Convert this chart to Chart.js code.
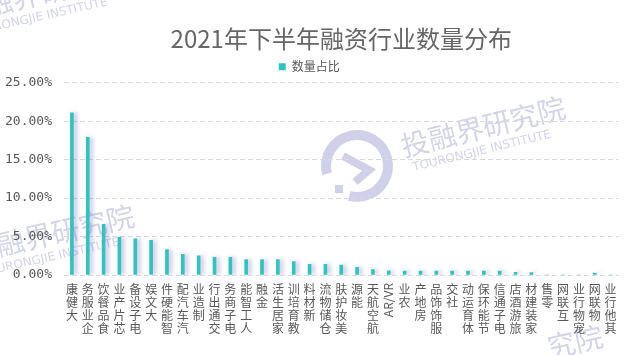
<!DOCTYPE html>
<html><head><meta charset="utf-8">
<script src="https://cdn.jsdelivr.net/npm/chart.js@4/dist/chart.umd.min.js"></script>
<style>html,body{margin:0;padding:0;background:#fff;}</style>
</head><body>
<canvas id="c" width="640" height="355"></canvas>
<script>
const titleText = '2021年下半年融资行业数量分布';
const seriesName = '数量占比';
const categories = ['大健康','企业服务','食品餐饮','芯片产业','电子设备','大文娱','智能硬件','汽车汽配','制造业','交通出行','电子商务','人工智能','金融','家居生活','教育培训','新材料','仓储物流','美妆护肤','能源','航空航天','AR/VR','农业','房地产','服饰饰品','社交','体育运动','节能环保','电子通信','旅游酒店','家装建材','零售','互联网','宠物行业','物联网','其他行业'];
const shares = [21.1,17.9,6.6,4.9,4.7,4.5,3.3,2.7,2.5,2.3,2.3,2.0,2.0,2.0,1.75,1.4,1.4,1.3,1.0,0.7,0.55,0.5,0.5,0.5,0.5,0.5,0.5,0.5,0.35,0.3,0,0,0,0.25,0];
const yTickValues = [0,5,10,15,20,25];
const watermarkCN = '投融界研究院';
const watermarkEN = 'TOURONGJIE INSTITUTE';

const barShadow = {
  id: 'barShadow',
  beforeDatasetsDraw(chart) {
    const ctx = chart.ctx; ctx.save();
    ctx.shadowColor = 'rgba(120,110,190,0.45)';
    ctx.shadowOffsetX = 3; ctx.shadowOffsetY = 0; ctx.shadowBlur = 4;
  },
  afterDatasetsDraw(chart) { chart.ctx.restore(); }
};

const titleCenter = {
  id: 'titleCenter',
  afterLayout(chart) {
    const t = chart.titleBlock;
    if (t) { t.left = chart.chartArea.left; t.right = chart.chartArea.right; t.width = t.right - t.left; }
  }
};

const watermark = {
  id: 'watermark',
  beforeDraw(chart) {
    const ctx = chart.ctx;
    ctx.save();
    const col = 'rgba(150,150,205,0.42)';
    ctx.fillStyle = col; ctx.textBaseline = 'alphabetic'; ctx.textAlign = 'left';
    const draw = (x, y, ang, cnSize, enSize, cn, withEn) => {
      ctx.save(); ctx.translate(x, y); ctx.rotate(ang);
      ctx.font = cnSize + 'px "Noto Sans CJK SC"';
      ctx.fillText(cn, 0, 0);
      if (withEn) { ctx.font = enSize + 'px "DejaVu Sans"'; ctx.fillText(watermarkEN, 6, enSize + 4); }
      ctx.restore();
    };
    draw(404, 157, -0.24, 28, 12, watermarkCN, true);
    draw(-28, 262, -0.22, 28, 12, watermarkCN, true);
    draw(-40, 22, -0.22, 28, 12, watermarkCN, true);
    draw(550, 358, -0.22, 28, 12, watermarkCN.slice(4), false);
    // logo
    const lc = 'rgba(150,150,210,0.45)';
    ctx.strokeStyle = lc; ctx.lineWidth = 10; ctx.lineCap = 'butt';
    ctx.beginPath(); ctx.arc(357, 166, 31, Math.PI * 0.92, Math.PI * 2.58); ctx.stroke();
    ctx.lineWidth = 8;
    ctx.beginPath(); ctx.moveTo(343, 156); ctx.lineTo(369, 170); ctx.lineTo(355, 182); ctx.stroke();
    ctx.fillStyle = lc; ctx.fillRect(335, 185, 8, 8);
    ctx.restore();
  }
};

const xLabels = {
  id: 'xLabels',
  afterDraw(chart) {
    const ctx = chart.ctx, xs = chart.scales.x;
    ctx.save();
    ctx.fillStyle = '#595959';
    ctx.font = '12px "Noto Sans CJK SC"';
    ctx.textAlign = 'center'; ctx.textBaseline = 'middle';
    const top = chart.chartArea.bottom + 8;
    categories.forEach((lab, i) => {
      const x = xs.getPixelForTick(i);
      const tokens = lab.match(/[\u2E80-\u9FFF]|[^\u2E80-\u9FFF]+/g);
      let y = top;
      for (let k = tokens.length - 1; k >= 0; k--) {
        const t = tokens[k];
        if (/[\u2E80-\u9FFF]/.test(t)) { ctx.fillText(t, x, y + 6.5); y += 13; }
        else {
          const w = ctx.measureText(t).width;
          ctx.save(); ctx.translate(x, y + w / 2); ctx.rotate(-Math.PI / 2); ctx.fillText(t, 0, 0); ctx.restore();
          y += w + 1;
        }
      }
    });
    ctx.restore();
  }
};

new Chart(document.getElementById('c'), {
  type: 'bar',
  data: {
    labels: categories,
    datasets: [{ label: seriesName, data: shares, backgroundColor: '#2EC4BF', barThickness: 3 }]
  },
  options: {
    responsive: false, animation: false,
    layout: { padding: { left: 0, right: 21.5, top: 0, bottom: 0 } },
    plugins: {
      title: { display: true, text: titleText, color: '#666666',
        font: { family: '"Noto Sans CJK SC"', size: 24, weight: 'normal' },
        padding: { top: 24, bottom: 0 } },
      legend: { display: true, position: 'top',
        labels: { boxWidth: 7, boxHeight: 7, padding: 8, color: '#595959',
          font: { family: '"Noto Sans CJK SC"', size: 12 } } },
      tooltip: { enabled: false }
    },
    scales: {
      x: {
        grid: { display: false }, border: { display: false },
        ticks: { display: false },
        afterFit(s) { s.height = 80; }
      },
      y: {
        min: 0, max: 25,
        afterBuildTicks(s) { s.ticks = yTickValues.map(v => ({ value: v })); },
        afterFit(s) { s.width = 64; },
        grid: { color: '#d9d9d9', lineWidth: 1, drawTicks: false },
        border: { display: false, dash: [5, 3] },
        ticks: { padding: 12, color: '#595959', font: { family: '"DejaVu Sans Mono"', size: 13 },
          callback: v => v.toFixed(2) + '%' }
      }
    }
  },
  plugins: [watermark, barShadow, titleCenter, xLabels]
});
</script>
</body></html>
